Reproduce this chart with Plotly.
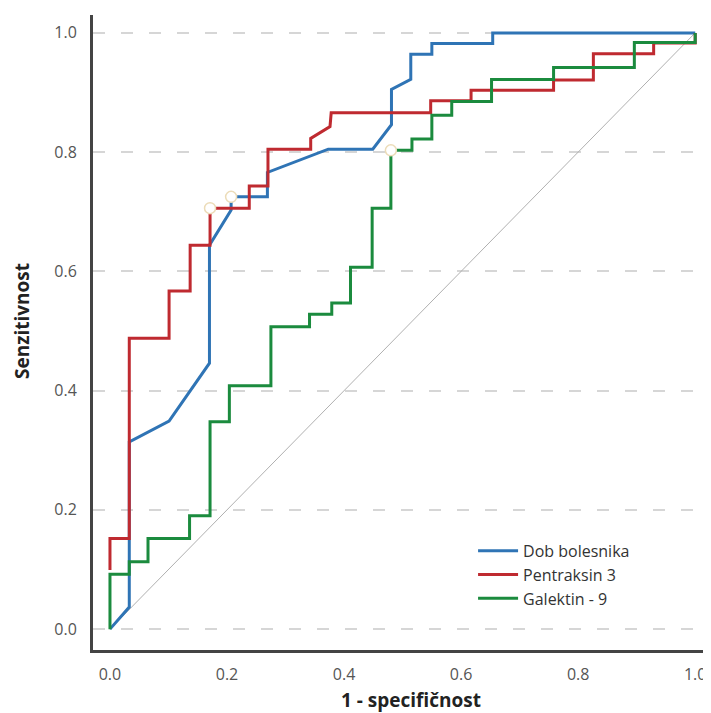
import plotly.graph_objects as go

# ROC curve points (1 - specificity, sensitivity)
dob_x = [0.0, 0.033, 0.033, 0.101, 0.170, 0.170, 0.207, 0.207, 0.269, 0.269, 0.373, 0.449, 0.481, 0.481, 0.514, 0.514, 0.550, 0.550, 0.654, 0.654, 1.0]
dob_y = [0.0, 0.037, 0.314, 0.349, 0.446, 0.644, 0.703, 0.725, 0.725, 0.766, 0.805, 0.805, 0.846, 0.905, 0.922, 0.964, 0.964, 0.982, 0.982, 1.0, 1.0]

ptx_x = [0.0, 0.0, 0.033, 0.033, 0.101, 0.101, 0.137, 0.137, 0.171, 0.171, 0.238, 0.238, 0.270, 0.270, 0.343, 0.343, 0.376, 0.378, 0.548, 0.548, 0.617, 0.617, 0.758, 0.758, 0.826, 0.826, 0.929, 0.929, 1.0, 1.0]
ptx_y = [0.099, 0.152, 0.152, 0.488, 0.488, 0.567, 0.567, 0.644, 0.644, 0.706, 0.706, 0.743, 0.743, 0.805, 0.805, 0.823, 0.843, 0.866, 0.866, 0.886, 0.886, 0.904, 0.904, 0.921, 0.921, 0.965, 0.965, 0.983, 0.983, 1.0]

gal_x = [0.0, 0.0, 0.033, 0.033, 0.065, 0.065, 0.136, 0.136, 0.171, 0.171, 0.204, 0.204, 0.275, 0.275, 0.341, 0.341, 0.379, 0.379, 0.411, 0.411, 0.448, 0.448, 0.480, 0.480, 0.516, 0.516, 0.550, 0.550, 0.584, 0.584, 0.652, 0.652, 0.758, 0.758, 0.896, 0.896, 1.0, 1.0]
gal_y = [0.0, 0.092, 0.092, 0.113, 0.113, 0.152, 0.152, 0.190, 0.190, 0.348, 0.348, 0.408, 0.408, 0.507, 0.507, 0.528, 0.528, 0.547, 0.547, 0.607, 0.607, 0.706, 0.706, 0.803, 0.803, 0.822, 0.822, 0.862, 0.862, 0.885, 0.885, 0.922, 0.922, 0.942, 0.942, 0.984, 0.984, 1.0]

# cut-off points
cut_x = [0.171, 0.207, 0.480]
cut_y = [0.706, 0.725, 0.803]

ref_x = [0.0, 1.0]
ref_y = [0.0, 1.0]

tick_vals = [0.0, 0.2, 0.4, 0.6, 0.8, 1.0]
tick_text = ["0.0", "0.2", "0.4", "0.6", "0.8", "1.0"]

names = ["Dob bolesnika", "Pentraksin 3", "Galektin - 9"]
colors = ["#2f74b5", "#bf2a30", "#1b8b3e"]

fig = go.Figure()
fig.add_trace(go.Scatter(x=ref_x, y=ref_y, mode="lines",
                         line=dict(color="#b0b0b0", width=1), showlegend=False, hoverinfo="skip"))
for xs, ys, nm, col in [(dob_x, dob_y, names[0], colors[0]),
                        (ptx_x, ptx_y, names[1], colors[1]),
                        (gal_x, gal_y, names[2], colors[2])]:
    fig.add_trace(go.Scatter(x=xs, y=ys, mode="lines", name=nm,
                             line=dict(color=col, width=3)))
fig.add_trace(go.Scatter(x=cut_x, y=cut_y, mode="markers", showlegend=False,
                         marker=dict(symbol="circle", size=11, color="white",
                                     line=dict(color="#ecdcb8", width=1.5))))

fig.update_layout(
    width=703, height=705,
    margin=dict(l=85, r=0, t=7, b=63),
    paper_bgcolor="white", plot_bgcolor="white",
    font=dict(family="Open Sans", color="#444"),
    legend=dict(x=0.615, y=0.183, xanchor="left", yanchor="top",
                font=dict(size=16, color="#333"), bgcolor="rgba(0,0,0,0)",
                tracegroupgap=0, itemwidth=40),
    showlegend=True,
    annotations=[
        dict(text="<b>Senzitivnost</b>", xref="paper", yref="paper", x=-0.115, y=0.518,
             xanchor="center", yanchor="middle", textangle=-90, showarrow=False,
             font=dict(size=19, color="#222")),
        dict(text="<b>1 - specifičnost</b>", xref="paper", yref="paper", x=0.515, y=-0.079,
             xanchor="center", yanchor="middle", showarrow=False,
             font=dict(size=19, color="#222")),
    ],
)
fig.update_xaxes(range=[-0.029, 1.027], tickvals=tick_vals, ticktext=tick_text, automargin=False,
                 showgrid=False, zeroline=False, showline=True, linecolor="#444", linewidth=3,
                 ticks="", ticklabelstandoff=8, tickfont=dict(size=16, color="#555"))
fig.update_yaxes(range=[-0.035, 1.03], tickvals=tick_vals, ticktext=tick_text, automargin=False,
                 showgrid=True, gridcolor="#d6d6d6", gridwidth=1.5, griddash="12px,16px",
                 zeroline=False, showline=True, linecolor="#444", linewidth=3,
                 ticks="", ticklabelstandoff=10, tickfont=dict(size=16, color="#555"))

fig.write_html("out.html")
